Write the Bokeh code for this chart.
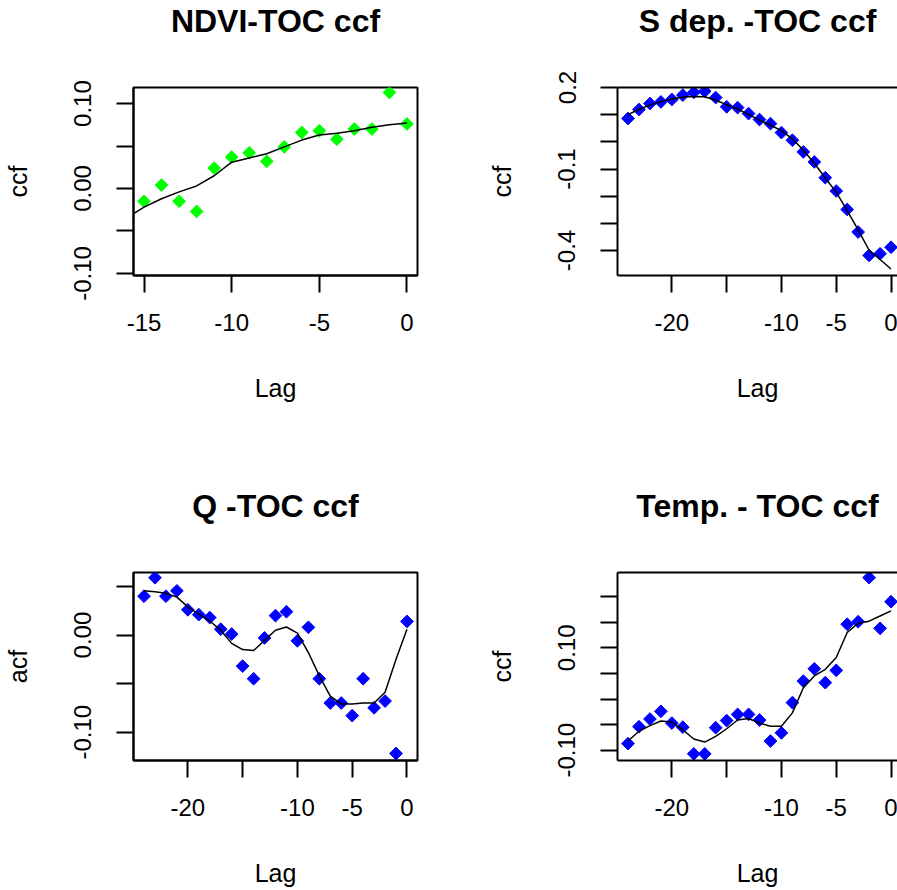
import numpy as np
from bokeh.plotting import figure
from bokeh.models import Range1d, FixedTicker, PrintfTickFormatter, LinearAxis, Title
from bokeh.layouts import gridplot
from bokeh.embed import file_html
from bokeh.resources import INLINE

FONT = "Liberation Sans"

# ---------------- data ----------------
lag_ndvi = list(range(-15, 1))
ccf_ndvi = [-0.015, 0.004, -0.015, -0.027, 0.024, 0.037, 0.042, 0.032,
            0.049, 0.066, 0.068, 0.058, 0.070, 0.070, 0.113, 0.076]
smooth_ndvi_x = [-15.55] + list(range(-15, 1))
smooth_ndvi_y = [-0.029, -0.022, -0.012, -0.004, 0.003, 0.015, 0.031, 0.036,
                 0.041, 0.049, 0.057, 0.063, 0.065, 0.068, 0.072, 0.075, 0.077]

lag_24 = list(range(-24, 1))
ccf_sdep = [0.086, 0.119, 0.141, 0.147, 0.156, 0.172, 0.182, 0.186, 0.163,
            0.129, 0.126, 0.104, 0.082, 0.067, 0.034, 0.006, -0.037, -0.074,
            -0.132, -0.181, -0.249, -0.332, -0.418, -0.412, -0.388]
smooth_sdep = [0.100, 0.120, 0.135, 0.148, 0.158, 0.165, 0.167, 0.166, 0.153,
               0.137, 0.121, 0.100, 0.080, 0.061, 0.041, 0.011, -0.031, -0.079,
               -0.133, -0.185, -0.253, -0.324, -0.399, -0.433, -0.468]

ccf_q = [0.040, 0.059, 0.040, 0.0455, 0.026, 0.021, 0.018, 0.006, 0.001,
         -0.032, -0.045, -0.003, 0.020, 0.024, -0.006, 0.008, -0.045, -0.070,
         -0.070, -0.083, -0.045, -0.075, -0.068, -0.122, 0.014]
smooth_q = [0.0455, 0.0445, 0.043, 0.039, 0.029, 0.0215, 0.0145, 0.005, -0.0086,
            -0.015, -0.016, -0.0055, 0.005, 0.0083, 0.002, -0.018, -0.042, -0.063,
            -0.071, -0.071, -0.070, -0.070, -0.059, -0.025, 0.006]

ccf_temp = [-0.087, -0.054, -0.039, -0.024, -0.047, -0.055, -0.107, -0.107,
            -0.056, -0.042, -0.030, -0.030, -0.041, -0.082, -0.066, -0.007,
            0.035, 0.059, 0.032, 0.056, 0.146, 0.151, 0.237, 0.138, 0.190]
smooth_temp = [-0.082, -0.063, -0.052, -0.043, -0.045, -0.060, -0.078, -0.084,
               -0.073, -0.058, -0.041, -0.038, -0.047, -0.053, -0.053, -0.027,
               0.022, 0.045, 0.058, 0.081, 0.130, 0.148, 0.152, 0.162, 0.172]

titles = ["NDVI-TOC ccf", "S dep. -TOC ccf", "Q -TOC ccf", "Temp. - TOC ccf"]
ylabels = ["ccf", "ccf", "acf", "ccf"]
xlabel = "Lag"

xt_ndvi = [-15, -10, -5, 0]
xt_ndvi_labels = ["-15", "-10", "-5", "0"]
xt_24 = [-20, -10, -5, 0]
xt_24_labels = ["-20", "-10", "-5", "0"]
xt_24_minor = [-15]

yt_ndvi = [-0.10, 0.00, 0.10]
yt_ndvi_labels = ["-0.10", "0.00", "0.10"]
yt_ndvi_minor = [-0.05, 0.05]

yt_sdep = [0.2, -0.1, -0.4]
yt_sdep_labels = ["0.2", "-0.1", "-0.4"]
yt_sdep_minor = [0.1, 0.0, -0.2, -0.3]

yt_q = [0.00, -0.10]
yt_q_labels = ["0.00", "-0.10"]
yt_q_minor = [0.05, -0.05]

yt_temp = [-0.10, 0.10]
yt_temp_labels = ["-0.10", "0.10"]
yt_temp_minor = [-0.05, 0.00, 0.05, 0.15, 0.20]

GREEN = "#00FF00"
BLUE = "#0000FF"


def make_panel(title, ylab, xr, yr, xt, xtl, xtm, yt, ytl, ytm, yfmt,
               left_border, frame_w, right_border, top_border, bottom_border,
               clipped_right):
    p = figure(title=None, frame_width=frame_w, frame_height=188,
               min_border_left=left_border, min_border_right=right_border,
               min_border_top=top_border, min_border_bottom=bottom_border,
               x_range=Range1d(*xr), y_range=Range1d(*yr),
               output_backend="svg", toolbar_location=None)
    p.background_fill_color = "white"
    p.border_fill_color = "white"
    p.xgrid.visible = False
    p.ygrid.visible = False
    xa = p.below[0]
    ya = p.left[0]

    if clipped_right:
        # box continues past the page edge: draw its top edge with an empty axis
        p.outline_line_color = None
        top_axis = LinearAxis(ticker=FixedTicker(ticks=[]),
                              major_label_standoff=0, major_tick_out=0,
                              major_tick_in=0, minor_tick_out=0, minor_tick_in=0,
                              axis_line_width=2, axis_line_color="black",
                              major_label_text_font_size="1px")
        p.add_layout(top_axis, "above")
    else:
        p.outline_line_color = "black"
        p.outline_line_width = 2

    p.add_layout(Title(text=" ", text_font_size="1px", standoff=46), "above")
    p.add_layout(Title(text=title, align="center", text_font=FONT,
                       text_font_size="32px", text_font_style="bold",
                       text_color="black", standoff=0), "above")

    for ax in (xa, ya):
        ax.axis_line_width = 2
        ax.axis_line_color = "black"
        ax.major_tick_line_width = 2
        ax.major_tick_line_color = "black"
        ax.minor_tick_line_width = 2
        ax.minor_tick_line_color = "black"
        ax.major_tick_out = 17
        ax.major_tick_in = 0
        ax.minor_tick_out = 17
        ax.minor_tick_in = 0
        ax.major_label_text_font = FONT
        ax.major_label_text_font_size = "24px"
        ax.major_label_text_color = "black"
        ax.axis_label_text_font = FONT
        ax.axis_label_text_font_size = "25px"
        ax.axis_label_text_font_style = "normal"
        ax.axis_label_text_color = "black"

    xa.ticker = FixedTicker(ticks=xt, minor_ticks=xtm)
    xa.formatter = PrintfTickFormatter(format="%d")
    xa.major_label_overrides = dict(zip(xt, xtl))
    xa.major_label_standoff = 21
    xa.axis_label = xlabel
    xa.axis_label_standoff = 40

    ya.ticker = FixedTicker(ticks=yt, minor_ticks=ytm)
    ya.formatter = PrintfTickFormatter(format=yfmt)
    ya.major_label_overrides = dict(zip(yt, ytl))
    ya.major_label_orientation = "vertical"
    ya.major_label_standoff = 25
    ya.axis_label = ylab
    ya.axis_label_standoff = 40
    return p


def add_marks(p, x, y, sx, sy, color):
    p.scatter(x, y, marker="square", angle=np.pi / 4, size=9,
              fill_color=color, line_color=color)
    p.line(sx, sy, line_color="black", line_width=1.5)


p1 = make_panel(titles[0], ylabels[0], (-15.6, 0.6), (-0.1024, 0.1189),
                xt_ndvi, xt_ndvi_labels, [], yt_ndvi, yt_ndvi_labels, yt_ndvi_minor,
                "%.2f", 133, 284, 31, 87, 170, False)
add_marks(p1, lag_ndvi, ccf_ndvi, smooth_ndvi_x, smooth_ndvi_y, GREEN)

p2 = make_panel(titles[1], ylabels[1], (-24.96, 0.59), (-0.492, 0.2),
                xt_24, xt_24_labels, xt_24_minor, yt_sdep, yt_sdep_labels, yt_sdep_minor,
                "%.1f", 169, 280, 0, 87, 170, True)
add_marks(p2, lag_24, ccf_sdep, lag_24, smooth_sdep, BLUE)

p3 = make_panel(titles[2], ylabels[2], (-24.96, 0.96), (-0.1292, 0.0644),
                xt_24, xt_24_labels, xt_24_minor, yt_q, yt_q_labels, yt_q_minor,
                "%.2f", 133, 284, 31, 127, 130, False)
add_marks(p3, lag_24, ccf_q, lag_24, smooth_q, BLUE)

p4 = make_panel(titles[3], ylabels[3], (-24.96, 0.59), (-0.120, 0.247),
                xt_24, xt_24_labels, xt_24_minor, yt_temp, yt_temp_labels, yt_temp_minor,
                "%.2f", 169, 280, 0, 127, 130, True)
add_marks(p4, lag_24, ccf_temp, lag_24, smooth_temp, BLUE)

grid = gridplot([[p1, p2], [p3, p4]], toolbar_location=None)

open("out.html", "w").write(file_html(grid, INLINE))
